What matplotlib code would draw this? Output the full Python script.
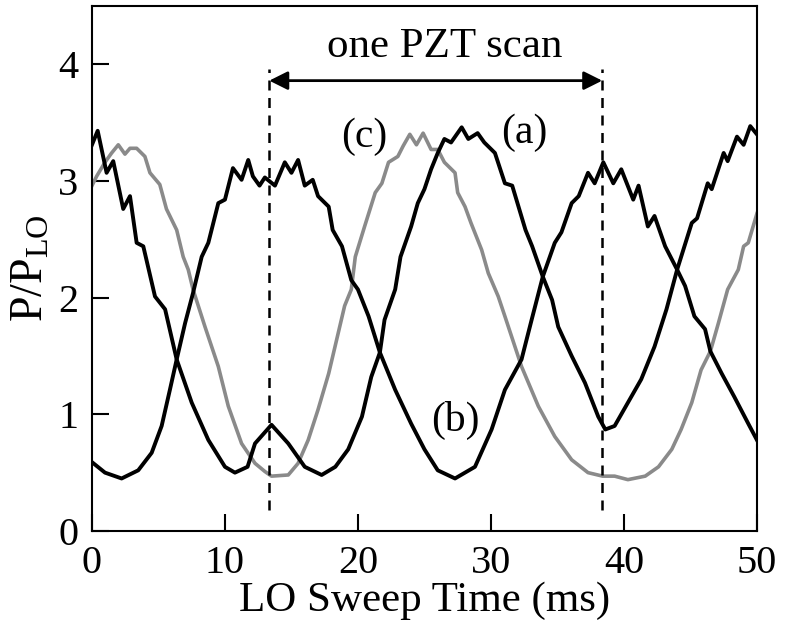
import matplotlib.pyplot as plt

plt.rcParams['font.family'] = ['Liberation Serif', 'DejaVu Serif']
plt.rcParams['mathtext.fontset'] = 'custom'
plt.rcParams['mathtext.rm'] = 'Liberation Serif'
plt.rcParams['mathtext.it'] = 'Liberation Serif:italic'

# curve (a), black, starts high
xa = [0.0, 0.43, 1.1, 1.6, 2.35, 2.86, 3.36, 3.86, 4.74, 5.5, 6.37, 7.5, 8.75,
      10.0, 10.75, 11.7, 12.26, 13.5, 14.76, 16.0, 17.27, 18.3, 19.27, 20.3,
      21.0, 21.65, 22.0, 22.8, 23.2, 24.0, 24.5, 25.0, 25.5, 26.0, 26.5, 27.0,
      27.8, 28.3, 29.0, 29.5, 30.3, 31.05, 31.6, 32.6, 33.1, 33.9, 34.6, 35.06,
      36.07, 37.07, 38.07, 38.6, 39.3, 40.3, 41.3, 42.3, 43.2, 44.0, 45.1,
      45.5, 46.3, 46.6, 47.5, 47.8, 48.5, 49.0, 49.5, 50.0]
ya = [3.31, 3.43, 3.07, 3.17, 2.76, 2.87, 2.47, 2.44, 2.01, 1.90, 1.47, 1.10,
      0.78, 0.55, 0.50, 0.55, 0.75, 0.91, 0.75, 0.55, 0.48, 0.55, 0.70, 0.98,
      1.32, 1.53, 1.81, 2.07, 2.35, 2.61, 2.81, 2.93, 3.10, 3.24, 3.36, 3.33,
      3.46, 3.36, 3.41, 3.33, 3.24, 2.98, 2.96, 2.58, 2.44, 2.18, 1.98, 1.75,
      1.50, 1.27, 0.98, 0.87, 0.90, 1.10, 1.30, 1.58, 1.90, 2.24, 2.64,
      2.68, 2.98, 2.93, 3.24, 3.17, 3.38, 3.31, 3.47, 3.40]

# curve (b), black, starts low
xb = [0.0, 0.98, 2.23, 3.48, 4.49, 5.24, 5.86, 6.37, 7.0, 7.6, 8.25, 8.75, 9.5,
      10.0, 10.6, 11.25, 11.75, 12.1, 12.6, 13.0, 13.76, 14.5, 15.0, 15.5,
      16.0, 16.6, 17.0, 17.8, 18.1, 18.8, 19.5, 20.0, 20.8, 21.65, 22.8, 24.0,
      25.0, 26.0, 27.3, 28.8, 30.05, 31.05, 32.3, 33.06, 33.9, 34.8, 35.3,
      36.07, 36.6, 37.3, 37.8, 38.45, 39.2, 39.8, 40.7, 41.1, 41.8, 42.3,
      43.1, 44.0, 44.6, 45.3, 46.1, 46.5, 47.35, 48.3, 49.35, 50.0]
yb = [0.59, 0.50, 0.45, 0.52, 0.67, 0.90, 1.21, 1.47, 1.78, 2.04, 2.35, 2.47,
      2.81, 2.84, 3.11, 3.01, 3.18, 3.04, 2.96, 3.03, 2.96, 3.16, 3.07, 3.18,
      2.96, 3.01, 2.87, 2.78, 2.58, 2.44, 2.15, 2.07, 1.84, 1.53, 1.21, 0.92,
      0.70, 0.52, 0.45, 0.55, 0.87, 1.21, 1.47, 1.81, 2.18, 2.47, 2.56,
      2.81, 2.87, 3.07, 2.98, 3.16, 2.98, 3.10, 2.84, 2.96, 2.61, 2.70,
      2.44, 2.24, 2.10, 1.84, 1.73, 1.54, 1.35, 1.15, 0.92, 0.78]

# curve (c), gray
xc = [0.0, 0.35, 0.98, 1.48, 1.98, 2.48, 2.86, 3.36, 3.98, 4.36, 5.1, 5.6,
      6.37, 6.86, 7.24, 7.6, 8.5, 9.5, 10.25, 11.25, 12.26, 13.0, 13.5, 14.76,
      15.5, 16.26, 17.0, 17.8, 18.4, 19.0, 19.5, 19.8, 20.5, 21.3, 21.8, 22.3,
      23.0, 23.4, 23.9, 24.4, 24.9, 25.5, 26.0, 26.5, 27.3, 27.5, 28.05,
      28.5, 29.3, 29.8, 30.55, 31.05, 32.3, 33.56, 34.8, 36.07, 37.3, 38.4,
      39.3, 40.3, 41.6, 42.6, 43.6, 44.3, 45.1, 45.8, 46.5, 47.1, 47.8,
      48.6, 49.0, 49.35, 50.0]
yc = [2.96, 3.04, 3.16, 3.24, 3.31, 3.23, 3.28, 3.28, 3.21, 3.07, 2.97, 2.76,
      2.58, 2.35, 2.24, 2.07, 1.75, 1.41, 1.07, 0.75, 0.58, 0.51, 0.47, 0.48,
      0.58, 0.78, 1.04, 1.35, 1.64, 1.93, 2.07, 2.35, 2.61, 2.90, 2.98, 3.16,
      3.21, 3.30, 3.40, 3.31, 3.41, 3.27, 3.27, 3.16, 3.07, 2.90, 2.78,
      2.64, 2.41, 2.21, 2.01, 1.84, 1.41, 1.07, 0.81, 0.61, 0.50, 0.47,
      0.47, 0.44, 0.47, 0.55, 0.70, 0.87, 1.10, 1.38, 1.54, 1.78, 2.07,
      2.24, 2.44, 2.47, 2.72]

scan_start = 13.33
scan_end = 38.37
xticks = [0, 10, 20, 30, 40, 50]
yticks = [0, 1, 2, 3, 4]

fig = plt.figure(figsize=(7.86, 6.28), dpi=100)
ax = fig.add_axes([0.117, 0.1545, 0.846, 0.836])

ax.plot(xc, yc, color='#8a8a8a', lw=2.6)
ax.plot(xb, yb, color='black', lw=2.8)
ax.plot(xa, ya, color='black', lw=2.8)

for xs in (scan_start, scan_end):
    ax.plot([xs, xs], [0.18, 3.96], color='black', lw=1.8, ls=(0, (4, 3)))
ax.annotate('', xy=(scan_start, 3.86), xytext=(scan_end, 3.86),
            arrowprops=dict(arrowstyle='<|-|>', color='black', lw=2,
                            mutation_scale=28, shrinkA=0, shrinkB=0))

ax.text(26.5, 4.06, 'one PZT scan', fontsize=31, ha='center', va='baseline')
ax.text(20.45, 3.38, '(c)', fontsize=30, ha='center', va='center')
ax.text(32.5, 3.41, '(a)', fontsize=30, ha='center', va='center')
ax.text(27.35, 0.95, '(b)', fontsize=30, ha='center', va='center')

ax.set_xlim(0, 50)
ax.set_ylim(0, 4.5)
ax.set_xticks(xticks)
ax.set_yticks(yticks)
ax.tick_params(direction='in', length=12, width=1.5, labelsize=29, pad=10,
               top=False, right=False)
for s in ax.spines.values():
    s.set_linewidth(1.5)

ax.set_xlabel('LO Sweep Time (ms)', fontsize=31, labelpad=0)
ax.set_ylabel(r'P/P$_{\rm LO}$', fontsize=33, labelpad=4)

fig.savefig('out.png', dpi=100)
